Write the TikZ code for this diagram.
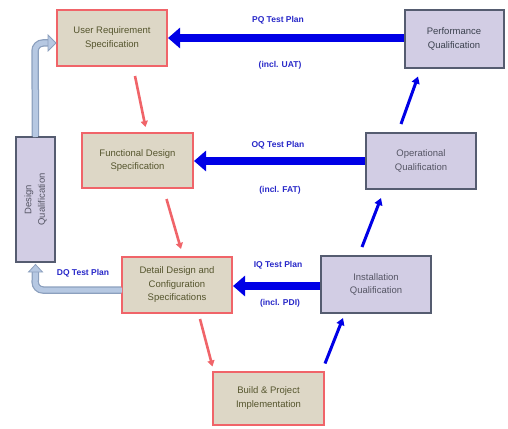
\documentclass[tikz,border=0pt]{standalone}
\usepackage{fontspec}
\setmainfont{Liberation Sans}
\usetikzlibrary{arrows.meta,calc}
\definecolor{redbd}{RGB}{240,100,105}
\definecolor{redfill}{RGB}{221,215,198}
\definecolor{redtxt}{RGB}{85,85,45}
\definecolor{bluebd}{RGB}{85,92,112}
\definecolor{bluefill}{RGB}{210,205,228}
\definecolor{bluetxt}{RGB}{85,85,100}
\definecolor{strongblue}{RGB}{0,0,230}
\definecolor{lblue}{RGB}{182,200,226}
\definecolor{lbluebd}{RGB}{140,160,190}
\definecolor{lbltxt}{RGB}{40,40,200}
\tikzset{
  redbox/.style={draw=redbd, line width=2pt, fill=redfill, text=redtxt, align=center,
    font=\fontsize{9.5}{13.5}\selectfont, inner sep=0pt},
  bluebox/.style={draw=bluebd, line width=2pt, fill=bluefill, text=bluetxt, align=center,
    font=\fontsize{9.5}{13.5}\selectfont, inner sep=0pt},
  bigarrow/.style={draw=strongblue, line width=8.5pt, -{Triangle[length=12pt,width=20pt]}},
  redarrow/.style={draw=redbd, line width=2.6pt, -{Triangle[length=6pt,width=7pt]}},
  bluearrow/.style={draw=strongblue, line width=3pt, -{Triangle[length=7pt,width=8pt]}},
  lbl/.style={text=lbltxt, font=\bfseries\fontsize{8.5}{10}\selectfont, inner sep=0pt},
  dqout/.style={draw=lbluebd, line width=7.5pt, rounded corners=8pt},
  dqin/.style={draw=lblue, line width=5pt, rounded corners=8pt},
}
\begin{document}
\begin{tikzpicture}[x=1pt,y=-1pt]
\useasboundingbox (0,0) rectangle (508,428);
% boxes
\node[redbox, minimum width=110pt, minimum height=56pt] (urs) at (112,38) {User Requirement\\Specification};
\node[bluebox, minimum width=99pt, minimum height=57pt, text=bluebd!70!black] (pq) at (454,39) {Performance\\Qualification};
\node[redbox, minimum width=111pt, minimum height=55pt] (fds) at (137.5,160.5) {Functional Design\\Specification};
\node[bluebox, minimum width=110pt, minimum height=56pt] (oq) at (421,161) {Operational\\Qualification};
\node[bluebox, minimum width=39pt, minimum height=125pt] (dq) at (35.5,199.5) {};
\node[rotate=90, text=bluetxt, align=center, font=\fontsize{9.5}{13.5}\selectfont] (dqt) at (dq.center) {Design\\Qualification};
\node[redbox, minimum width=110pt, minimum height=56pt] (ddcs) at (177,285) {Detail Design and\\Configuration\\Specifications};
\node[bluebox, minimum width=110pt, minimum height=57pt] (iq) at (376,284.5) {Installation\\Qualification};
\node[redbox, minimum width=111pt, minimum height=53pt] (build) at (268.5,398) {Build \& Project\\Implementation};
% big blue arrows
\draw[bigarrow] (pq.west |- 0,38) -- (urs.east |- 0,38);
\draw[bigarrow] (oq.west |- 0,161) -- (fds.east |- 0,161);
\draw[bigarrow] (iq.west |- 0,286) -- (ddcs.east |- 0,286);
% labels
\node[lbl] (l1) at (278,20) {PQ Test Plan};
\node[lbl] (l2) at (280,65) {(incl. UAT)};
\node[lbl] (l3) at (278,145) {OQ Test Plan};
\node[lbl] (l4) at (280,190) {(incl. FAT)};
\node[lbl] (l5) at (278,265) {IQ Test Plan};
\node[lbl] (l6) at (280,303) {(incl. PDI)};
\node[lbl] (l7) at (83,273) {DQ Test Plan};
% red arrows (left leg)
\draw[redarrow] ([shift={(23,9)}]urs.south) -- ([shift={(8,-5)}]fds.north);
\draw[redarrow] ([shift={(29,10)}]fds.south) -- ([shift={(4,-7)}]ddcs.north);
\draw[redarrow] ([shift={(23,5)}]ddcs.south) -- ([shift={(-56,-4)}]build.north);
% blue arrows (right leg)
\draw[bluearrow] ([shift={(0,-7)}]build.north east) -- ([shift={(-33,4)}]iq.south);
\draw[bluearrow] ([shift={(-14,-8)}]iq.north) -- ([shift={(-40,8)}]oq.south);
\draw[bluearrow] ([shift={(-20,-8)}]oq.north) -- ([shift={(-36,8)}]pq.south);
% light blue DQ arrows
\coordinate (c1) at (35,290);
\coordinate (c2) at (35,43);
\draw[dqout] (ddcs.west |- 0,290) -- (c1) -- ([yshift=-8pt]dq.south);
\draw[dqin] ([xshift=1pt]ddcs.west |- 0,290) -- (c1) -- ([yshift=-7.5pt]dq.south);
\fill[lblue, draw=lbluebd, line width=0.8pt] ([shift={(-7,9)}]dq.south) -- ([shift={(0,1.5)}]dq.south) -- ([shift={(7,9)}]dq.south) -- cycle;
\draw[dqout] (dq.north) -- (c2) -- ([xshift=-7pt]urs.west |- 0,43);
\draw[dqin] ([yshift=-1pt]dq.north) -- (c2) -- ([xshift=-7pt]urs.west |- 0,43);
\fill[lblue, draw=lbluebd, line width=0.8pt] ([xshift=-8pt]urs.west |- 0,35) -- (urs.west |- 0,43) -- ([xshift=-8pt]urs.west |- 0,51) -- cycle;
\end{tikzpicture}
\end{document}
